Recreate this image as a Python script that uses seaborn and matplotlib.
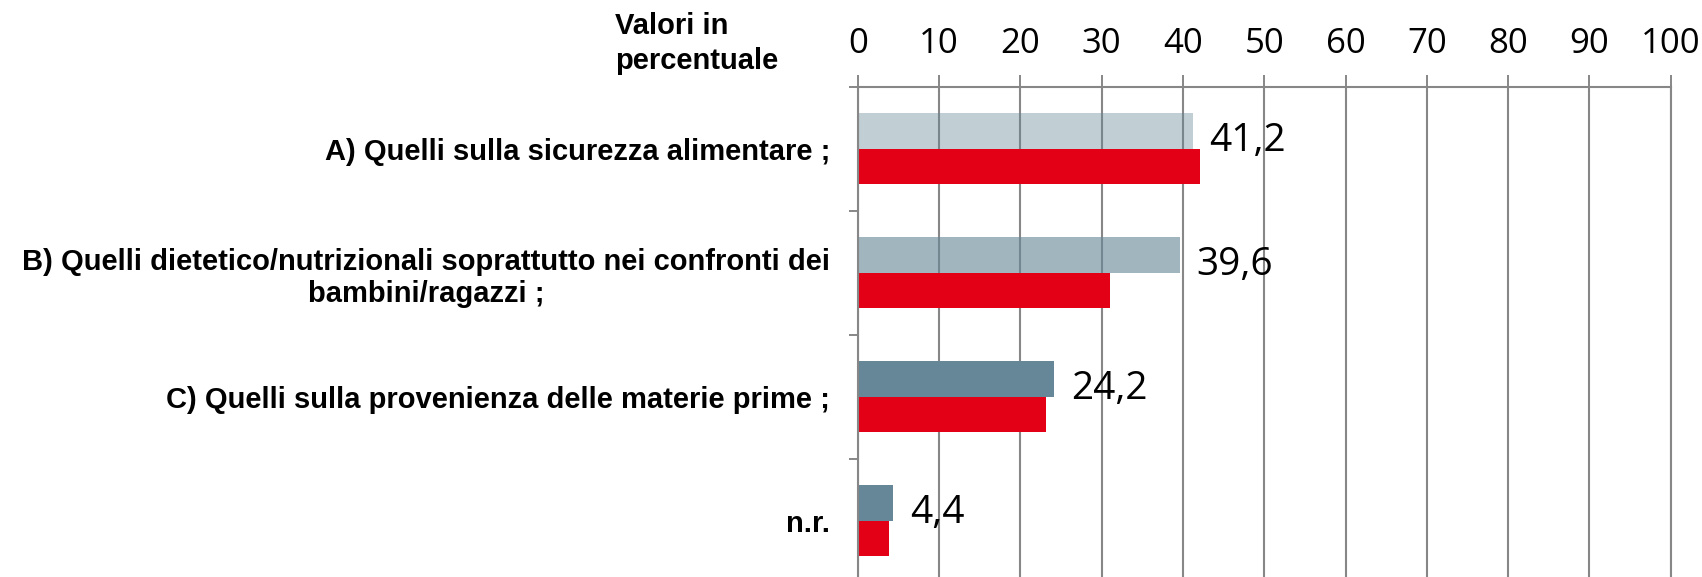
import numpy as np
import pandas as pd
import matplotlib
matplotlib.use("Agg")
import matplotlib.pyplot as plt
import matplotlib.colors as mcolors
import seaborn as sns

# ---------------- data ----------------
categories = [
    "A) Quelli sulla sicurezza alimentare ;",
    "B) Quelli dietetico/nutrizionali soprattutto nei confronti dei\nbambini/ragazzi ;",
    "C) Quelli sulla provenienza delle materie prime ;",
    "n.r.",
]
series_names = ["Serie 1", "Serie 2"]
values_series1 = [41.2, 39.6, 24.2, 4.4]
values_series2 = [42.1, 31.0, 23.1, 3.8]
value_labels = ["41,2", "39,6", "24,2", "4,4"]
x_ticks = [0, 10, 20, 30, 40, 50, 60, 70, 80, 90, 100]
axis_title = "Valori in\npercentuale"

# ---------------- style ----------------
GRAY = "#658797"
RED = "#E30016"
GRID = "#878787"
gray_alphas = [0.40, 0.61, 1.0, 1.0]

sns.set_theme(style="white")
plt.rcParams["font.family"] = ["Liberation Sans", "DejaVu Sans"]

df = pd.DataFrame({
    "categoria": categories * 2,
    "serie": [series_names[0]] * len(categories) + [series_names[1]] * len(categories),
    "valore": values_series1 + values_series2,
})

W, H = 1702, 577
fig = plt.figure(figsize=(W / 100, H / 100), dpi=100)
ax = fig.add_axes([857.7 / W, (H - 582.7) / H, 813 / W, 496 / H])

sns.barplot(
    data=df, y="categoria", x="valore", hue="serie",
    order=categories, hue_order=series_names,
    palette=[GRAY, RED], orient="h", width=0.575, gap=0,
    saturation=1, legend=False, errorbar=None, ax=ax,
    linewidth=0,
)

# per-category shade of the grey series + value labels
gray_rgb = np.array(mcolors.to_rgb(GRAY))
for p in ax.patches:
    fc = np.array(p.get_facecolor()[:3])
    if np.allclose(fc, gray_rgb, atol=0.02):
        yc = p.get_y() + p.get_height() / 2
        idx = int(round(yc + 0.1))
        idx = min(max(idx, 0), len(categories) - 1)
        p.set_alpha(gray_alphas[idx])
        ax.annotate(value_labels[idx], xy=(p.get_width(), yc),
                    xytext=(12, -7), textcoords="offset points",
                    ha="left", va="center", fontsize=28,
                    family=["Open Sans", "DejaVu Sans"], color="black")

ax.set_xlim(0, 100)
ax.set_ylim(len(categories) - 0.5, -0.5)
ax.set_xlabel("")
ax.set_ylabel("")
ax.set_axisbelow(True)
ax.grid(axis="x", color=GRID, linewidth=1.5)
ax.grid(axis="y", visible=False)

# x axis on top
ax.xaxis.tick_top()
ax.set_xticks(x_ticks)
ax.set_xticklabels([str(t) for t in x_ticks])
ax.tick_params(axis="x", which="major", top=True, bottom=False, direction="out",
               length=8.6, width=1.4, color=GRID, labelsize=25, pad=10,
               labelcolor="black")
for lbl in ax.get_xticklabels():
    lbl.set_family(["Open Sans", "DejaVu Sans"])

# y axis: labels at centres, ticks on category borders
ax.set_yticks(range(len(categories)))
ax.set_yticklabels(categories)
ax.set_yticks(np.arange(-0.5, len(categories), 1.0), minor=True)
ax.tick_params(axis="y", which="major", left=True, length=0, pad=20, labelsize=21,
               labelcolor="black")
ax.tick_params(axis="y", which="minor", left=True, length=6.5, width=1.4, color=GRID)
for lbl in ax.get_yticklabels():
    lbl.set_fontweight("bold")
    lbl.set_multialignment("center")

for side in ["left", "top", "right"]:
    ax.spines[side].set_visible(True)
    ax.spines[side].set_color(GRID)
    ax.spines[side].set_linewidth(1.5)
ax.spines["bottom"].set_visible(False)

fig.text(615 / W, 1 - 12 / H, axis_title, ha="left", va="top",
         fontsize=21, fontweight="bold", linespacing=1.3, color="black")

fig.savefig("out.png", dpi=100)
